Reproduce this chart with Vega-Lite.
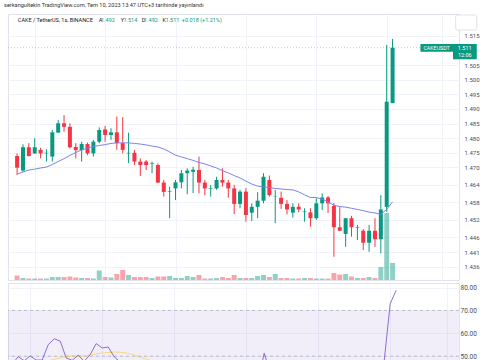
{
  "$schema": "https://vega.github.io/schema/vega-lite/v6.json",
  "padding": {"left": 4, "top": 2, "right": 0, "bottom": 0},
  "background": "white",
  "title": {"text": "serkangultekin TradingView.com, Tem 10, 2023 13:47 UTC+3 tarihinde yayınlandı", "anchor": "start", "fontSize": 5.6, "font": "Roboto", "fontWeight": "normal", "color": "#333333", "offset": 5, "dx": -3},
  "config": {"view": {"stroke": "#e0e3eb"}, "font": "Roboto", "axis": {"labelOverlap": false, "labelBound": false, "labelFlush": false}},
  "spacing": 1,
  "datasets": {
    "bars": [
      {"i":0,"o":1.4739,"h":1.4748,"l":1.4674,"c":1.4699,"v":4.5,"ma":1.4677,"rsi":46.5,"rsima":46.0},
      {"i":1,"o":1.4689,"h":1.4779,"l":1.4685,"c":1.4769,"v":2,"ma":1.4684,"rsi":49.8,"rsima":46.3},
      {"i":2,"o":1.4769,"h":1.4783,"l":1.4737,"c":1.4739,"v":1.5,"ma":1.4691,"rsi":48.0,"rsima":46.6},
      {"i":3,"o":1.4748,"h":1.4800,"l":1.4746,"c":1.4769,"v":1.5,"ma":1.4694,"rsi":50.1,"rsima":47.0},
      {"i":4,"o":1.4760,"h":1.4767,"l":1.4731,"c":1.4748,"v":1.5,"ma":1.4698,"rsi":48.3,"rsima":47.3},
      {"i":5,"o":1.4748,"h":1.4762,"l":1.4720,"c":1.4750,"v":1.5,"ma":1.4701,"rsi":48.3,"rsima":47.6},
      {"i":6,"o":1.4737,"h":1.4828,"l":1.4720,"c":1.4820,"v":3,"ma":1.4710,"rsi":55.0,"rsima":47.9},
      {"i":7,"o":1.4819,"h":1.4862,"l":1.4819,"c":1.4851,"v":3,"ma":1.4720,"rsi":57.6,"rsima":48.6},
      {"i":8,"o":1.4851,"h":1.4879,"l":1.4822,"c":1.4839,"v":3,"ma":1.4730,"rsi":56.6,"rsima":49.2},
      {"i":9,"o":1.4839,"h":1.4851,"l":1.4765,"c":1.4769,"v":3.5,"ma":1.4741,"rsi":49.2,"rsima":49.9},
      {"i":10,"o":1.4770,"h":1.4783,"l":1.4731,"c":1.4759,"v":2.5,"ma":1.4751,"rsi":48.2,"rsima":50.1},
      {"i":11,"o":1.4759,"h":1.4788,"l":1.4720,"c":1.4780,"v":2,"ma":1.4760,"rsi":50.4,"rsima":50.1},
      {"i":12,"o":1.4780,"h":1.4785,"l":1.4742,"c":1.4748,"v":2,"ma":1.4766,"rsi":47.8,"rsima":50.1},
      {"i":13,"o":1.4748,"h":1.4794,"l":1.4737,"c":1.4788,"v":1.5,"ma":1.4772,"rsi":50.7,"rsima":50.5},
      {"i":14,"o":1.4788,"h":1.4837,"l":1.4783,"c":1.4828,"v":9.5,"ma":1.4775,"rsi":55.5,"rsima":51.0},
      {"i":15,"o":1.4830,"h":1.4842,"l":1.4788,"c":1.4811,"v":3,"ma":1.4778,"rsi":53.6,"rsima":51.4},
      {"i":16,"o":1.4811,"h":1.4834,"l":1.4794,"c":1.4820,"v":2.5,"ma":1.4782,"rsi":54.0,"rsima":51.6},
      {"i":17,"o":1.4820,"h":1.4874,"l":1.4760,"c":1.4783,"v":6,"ma":1.4784,"rsi":49.7,"rsima":51.8},
      {"i":18,"o":1.4783,"h":1.4872,"l":1.4748,"c":1.4760,"v":10,"ma":1.4784,"rsi":47.5,"rsima":51.7},
      {"i":19,"o":1.4748,"h":1.4819,"l":1.4715,"c":1.4750,"v":5,"ma":1.4784,"rsi":45.5,"rsima":51.4},
      {"i":20,"o":1.4750,"h":1.4760,"l":1.4708,"c":1.4720,"v":3,"ma":1.4782,"rsi":42.0,"rsima":50.8},
      {"i":21,"o":1.4720,"h":1.4731,"l":1.4671,"c":1.4708,"v":3,"ma":1.4780,"rsi":40.5,"rsima":49.9},
      {"i":22,"o":1.4720,"h":1.4725,"l":1.4691,"c":1.4708,"v":3,"ma":1.4777,"rsi":40.5,"rsima":49.0},
      {"i":23,"o":1.4712,"h":1.4720,"l":1.4680,"c":1.4714,"v":2,"ma":1.4773,"rsi":41.5,"rsima":48.1},
      {"i":24,"o":1.4708,"h":1.4714,"l":1.4646,"c":1.4648,"v":3.5,"ma":1.4770,"rsi":35.5,"rsima":47.2},
      {"i":25,"o":1.4648,"h":1.4657,"l":1.4600,"c":1.4616,"v":3.5,"ma":1.4763,"rsi":32.5,"rsima":46.3},
      {"i":26,"o":1.4617,"h":1.4634,"l":1.4526,"c":1.4619,"v":4,"ma":1.4753,"rsi":33.0,"rsima":45.4},
      {"i":27,"o":1.4628,"h":1.4657,"l":1.4588,"c":1.4649,"v":2,"ma":1.4742,"rsi":37.5,"rsima":44.6},
      {"i":28,"o":1.4649,"h":1.4691,"l":1.4628,"c":1.4680,"v":2,"ma":1.4736,"rsi":42.0,"rsima":44.0},
      {"i":29,"o":1.4680,"h":1.4697,"l":1.4608,"c":1.4689,"v":4,"ma":1.4730,"rsi":43.0,"rsima":43.5},
      {"i":30,"o":1.4685,"h":1.4702,"l":1.4612,"c":1.4692,"v":3,"ma":1.4724,"rsi":43.5,"rsima":43.0},
      {"i":31,"o":1.4691,"h":1.4737,"l":1.4611,"c":1.4648,"v":5,"ma":1.4717,"rsi":38.5,"rsima":42.3},
      {"i":32,"o":1.4648,"h":1.4657,"l":1.4605,"c":1.4628,"v":1.5,"ma":1.4712,"rsi":36.5,"rsima":41.6},
      {"i":33,"o":1.4627,"h":1.4640,"l":1.4600,"c":1.4629,"v":1.5,"ma":1.4705,"rsi":36.8,"rsima":41.0},
      {"i":34,"o":1.4628,"h":1.4668,"l":1.4623,"c":1.4657,"v":2,"ma":1.4698,"rsi":41.0,"rsima":40.6},
      {"i":35,"o":1.4657,"h":1.4697,"l":1.4634,"c":1.4648,"v":3,"ma":1.4689,"rsi":40.0,"rsima":40.4},
      {"i":36,"o":1.4648,"h":1.4657,"l":1.4596,"c":1.4628,"v":2,"ma":1.4681,"rsi":37.5,"rsima":40.2},
      {"i":37,"o":1.4628,"h":1.4640,"l":1.4540,"c":1.4575,"v":5,"ma":1.4672,"rsi":32.0,"rsima":39.8},
      {"i":38,"o":1.4575,"h":1.4623,"l":1.4560,"c":1.4617,"v":2,"ma":1.4664,"rsi":39.0,"rsima":39.6},
      {"i":39,"o":1.4617,"h":1.4629,"l":1.4514,"c":1.4537,"v":2,"ma":1.4653,"rsi":32.5,"rsima":39.4},
      {"i":40,"o":1.4545,"h":1.4577,"l":1.4516,"c":1.4565,"v":2,"ma":1.4643,"rsi":36.0,"rsima":39.2},
      {"i":41,"o":1.4565,"h":1.4615,"l":1.4526,"c":1.4586,"v":4,"ma":1.4636,"rsi":39.5,"rsima":39.1},
      {"i":42,"o":1.4586,"h":1.4680,"l":1.4577,"c":1.4668,"v":5,"ma":1.4633,"rsi":51.3,"rsima":39.6},
      {"i":43,"o":1.4657,"h":1.4672,"l":1.4600,"c":1.4605,"v":3,"ma":1.4631,"rsi":43.0,"rsima":40.0},
      {"i":44,"o":1.4599,"h":1.4623,"l":1.4509,"c":1.4600,"v":6,"ma":1.4628,"rsi":42.5,"rsima":40.3},
      {"i":45,"o":1.4596,"h":1.4617,"l":1.4558,"c":1.4575,"v":2,"ma":1.4626,"rsi":40.0,"rsima":40.5},
      {"i":46,"o":1.4575,"h":1.4588,"l":1.4539,"c":1.4556,"v":2,"ma":1.4624,"rsi":38.0,"rsima":40.6},
      {"i":47,"o":1.4545,"h":1.4577,"l":1.4528,"c":1.4565,"v":1.5,"ma":1.4623,"rsi":39.5,"rsima":40.8},
      {"i":48,"o":1.4565,"h":1.4577,"l":1.4546,"c":1.4556,"v":1.5,"ma":1.4616,"rsi":38.5,"rsima":41.0},
      {"i":49,"o":1.4547,"h":1.4560,"l":1.4514,"c":1.4549,"v":2,"ma":1.4606,"rsi":38.0,"rsima":41.2},
      {"i":50,"o":1.4546,"h":1.4560,"l":1.4497,"c":1.4526,"v":2,"ma":1.4597,"rsi":35.5,"rsima":41.3},
      {"i":51,"o":1.4526,"h":1.4594,"l":1.4520,"c":1.4577,"v":1.5,"ma":1.4597,"rsi":44.0,"rsima":41.5},
      {"i":52,"o":1.4577,"h":1.4611,"l":1.4554,"c":1.4597,"v":1.5,"ma":1.4591,"rsi":48.2,"rsima":41.7},
      {"i":53,"o":1.4597,"h":1.4602,"l":1.4544,"c":1.4577,"v":1.5,"ma":1.4582,"rsi":44.5,"rsima":41.8},
      {"i":54,"o":1.4568,"h":1.4578,"l":1.4394,"c":1.4495,"v":7,"ma":1.4570,"rsi":35.0,"rsima":41.4},
      {"i":55,"o":1.4495,"h":1.4565,"l":1.4482,"c":1.4483,"v":5.5,"ma":1.4566,"rsi":34.0,"rsima":40.9},
      {"i":56,"o":1.4472,"h":1.4526,"l":1.4428,"c":1.4526,"v":6,"ma":1.4564,"rsi":40.0,"rsima":40.6},
      {"i":57,"o":1.4526,"h":1.4534,"l":1.4463,"c":1.4495,"v":3.5,"ma":1.4560,"rsi":37.0,"rsima":40.3},
      {"i":58,"o":1.4494,"h":1.4503,"l":1.4451,"c":1.4496,"v":2,"ma":1.4556,"rsi":37.2,"rsima":40.0},
      {"i":59,"o":1.4483,"h":1.4489,"l":1.4417,"c":1.4442,"v":2,"ma":1.4552,"rsi":32.5,"rsima":39.5},
      {"i":60,"o":1.4442,"h":1.4503,"l":1.4411,"c":1.4483,"v":3,"ma":1.4547,"rsi":38.0,"rsima":39.3},
      {"i":61,"o":1.4483,"h":1.4526,"l":1.4428,"c":1.4454,"v":2,"ma":1.4544,"rsi":35.5,"rsima":39.0},
      {"i":62,"o":1.4454,"h":1.4605,"l":1.4406,"c":1.4556,"v":13,"ma":1.4539,"rsi":47.8,"rsima":39.2},
      {"i":63,"o":1.4565,"h":1.5119,"l":1.4548,"c":1.4925,"v":67,"ma":1.4556,"rsi":72.9,"rsima":41.5},
      {"i":64,"o":1.4920,"h":1.5140,"l":1.4920,"c":1.5110,"v":17,"ma":1.4582,"rsi":78.8,"rsima":44.0}
    ]
  },
  "vconcat": [
    {
      "width": 451,
      "height": 266,
      "data": {"name": "bars"},
      "layer": [
        {
          "mark": {"type": "bar", "width": 5},
          "encoding": {
            "x": {"field": "i", "type": "quantitative", "title": null,
                  "scale": {"domain": [-0.7, 74.47], "nice": false, "zero": false},
                  "axis": {"orient": "bottom", "values": [3, 15, 27, 39, 51, 63, 72.5], "tickCount": 30, "grid": true, "gridColor": "#f0f3fa", "labels": false, "ticks": false, "domain": false, "title": null}},
            "y": {"field": "v", "type": "quantitative", "title": null, "axis": null, "scale": {"domain": [0, 266], "nice": false}},
            "color": {"condition": {"test": "datum.c >= datum.o", "value": "#089981"}, "value": "#F23645"},
            "opacity": {"value": 0.45}
          }
        },
        {
          "layer": [
            {
              "mark": {"type": "rule", "strokeWidth": 1},
              "encoding": {
                "x": {"field": "i", "type": "quantitative", "title": null},
                "y": {"field": "l", "type": "quantitative", "title": null,
                      "scale": {"domain": [1.43144, 1.52253], "nice": false, "zero": false},
                      "axis": {"orient": "right", "values": [1.436, 1.441, 1.446, 1.452, 1.458, 1.464, 1.470, 1.475, 1.480, 1.485, 1.490, 1.495, 1.500, 1.505, 1.515], "tickCount": 30, "format": ".3f", "labelOverlap": false, "grid": true, "gridColor": "#f0f3fa", "ticks": false, "domain": false, "labelPadding": 5, "labelFontSize": 6, "labelColor": "#4a4e5a", "labelFont": "Roboto", "title": null}},
                "y2": {"field": "h"},
                "color": {"condition": {"test": "datum.c >= datum.o", "value": "#089981"}, "value": "#F23645"}
              }
            },
            {
              "mark": {"type": "bar", "width": 4},
              "encoding": {
                "x": {"field": "i", "type": "quantitative", "title": null},
                "y": {"field": "o", "type": "quantitative", "title": null},
                "y2": {"field": "c"},
                "color": {"condition": {"test": "datum.c >= datum.o", "value": "#089981"}, "value": "#F23645"}
              }
            },
            {
              "mark": {"type": "line", "color": "#7b83eb", "strokeWidth": 1},
              "encoding": {
                "x": {"field": "i", "type": "quantitative", "title": null},
                "y": {"field": "ma", "type": "quantitative", "title": null}
              }
            },
            {
              "transform": [{"filter": "datum.i == 64"}],
              "mark": {"type": "rule", "color": "#089981", "strokeDash": [1, 2], "opacity": 0.35},
              "encoding": {"y": {"field": "c", "type": "quantitative", "title": null}}
            },
            {
              "transform": [{"filter": "datum.i == 64"}],
              "layer": [
                {"mark": {"type": "rect", "fill": "#089981"},
                 "encoding": {"x": {"datum": 68.75}, "x2": {"datum": 74.3}, "y": {"datum": 1.51226}, "y2": {"datum": 1.50962}}},
                {"mark": {"type": "rect", "fill": "#089981"},
                 "encoding": {"x": {"datum": 74.3}, "x2": {"datum": 78.35}, "y": {"datum": 1.51226}, "y2": {"datum": 1.50702}}},
                {"mark": {"type": "rect", "fill": "white", "stroke": "#d1d4dc", "strokeWidth": 0.7, "cornerRadius": 2},
                 "encoding": {"x": {"datum": 74.75}, "x2": {"datum": 78.35}, "y": {"datum": 1.52219}, "y2": {"datum": 1.51705}}},
                {"mark": {"type": "text", "text": "CAKEUSDT", "color": "white", "fontSize": 5.3, "align": "center", "baseline": "middle"},
                 "encoding": {"x": {"datum": 71.5}, "y": {"datum": 1.51096}}},
                {"mark": {"type": "text", "text": "1.511", "color": "white", "fontSize": 5.5, "align": "center", "baseline": "middle"},
                 "encoding": {"x": {"datum": 76.3}, "y": {"datum": 1.51096}}},
                {"mark": {"type": "text", "text": "12:06", "color": "white", "fontSize": 5.5, "align": "center", "baseline": "middle"},
                 "encoding": {"x": {"datum": 76.3}, "y": {"datum": 1.50849}}},
                {"mark": {"type": "text", "text": "CAKE / TetherUS, 1s, BINANCE", "color": "#131722", "fontSize": 5.5, "align": "left", "baseline": "middle"},
                 "encoding": {"x": {"datum": 0.13}, "y": {"datum": 1.5205}}},
                {"mark": {"type": "text", "text": "A", "color": "#131722", "fontSize": 5.5, "align": "left", "baseline": "middle"},
                 "encoding": {"x": {"datum": 13.92}, "y": {"datum": 1.5205}}},
                {"mark": {"type": "text", "text": "1.492", "color": "#089981", "fontSize": 5.5, "align": "left", "baseline": "middle"},
                 "encoding": {"x": {"datum": 14.3}, "y": {"datum": 1.5205}}},
                {"mark": {"type": "text", "text": "Y", "color": "#131722", "fontSize": 5.5, "align": "left", "baseline": "middle"},
                 "encoding": {"x": {"datum": 17.68}, "y": {"datum": 1.5205}}},
                {"mark": {"type": "text", "text": "1.514", "color": "#089981", "fontSize": 5.5, "align": "left", "baseline": "middle"},
                 "encoding": {"x": {"datum": 18.13}, "y": {"datum": 1.5205}}},
                {"mark": {"type": "text", "text": "D", "color": "#131722", "fontSize": 5.5, "align": "left", "baseline": "middle"},
                 "encoding": {"x": {"datum": 21.25}, "y": {"datum": 1.5205}}},
                {"mark": {"type": "text", "text": "1.492", "color": "#089981", "fontSize": 5.5, "align": "left", "baseline": "middle"},
                 "encoding": {"x": {"datum": 21.63}, "y": {"datum": 1.5205}}},
                {"mark": {"type": "text", "text": "K", "color": "#131722", "fontSize": 5.5, "align": "left", "baseline": "middle"},
                 "encoding": {"x": {"datum": 24.8}, "y": {"datum": 1.5205}}},
                {"mark": {"type": "text", "text": "1.511", "color": "#089981", "fontSize": 5.5, "align": "left", "baseline": "middle"},
                 "encoding": {"x": {"datum": 25.3}, "y": {"datum": 1.5205}}},
                {"mark": {"type": "text", "text": "+0.018 (+1.21%)", "color": "#089981", "fontSize": 5.5, "align": "left", "baseline": "middle"},
                 "encoding": {"x": {"datum": 28.08}, "y": {"datum": 1.5205}}}
              ]
            }
          ]
        }
      ],
      "resolve": {"scale": {"y": "independent"}}
    },
    {
      "width": 451,
      "height": 79,
      "data": {"name": "bars"},
      "layer": [
        {
          "transform": [{"filter": "datum.i == 64"}],
          "mark": {"type": "rect", "fill": "#7E57C2", "opacity": 0.1, "clip": true},
          "encoding": {
            "y": {"datum": 70, "type": "quantitative", "title": null, "scale": {"domain": [47.45, 82], "nice": false, "zero": false},
                  "axis": {"orient": "right", "values": [50, 60, 70, 80], "tickCount": 30, "format": ".2f", "labelOverlap": false, "grid": true, "gridColor": "#f0f3fa", "ticks": false, "domain": false, "labelPadding": 1, "labelFontSize": 6.5, "labelColor": "#4a4e5a", "labelFont": "Roboto", "title": null}},
            "y2": {"datum": 30}
          }
        },
        {
          "transform": [{"filter": "datum.i == 64"}],
          "mark": {"type": "rule", "color": "#9598a1", "strokeDash": [3, 3], "opacity": 0.7, "strokeWidth": 0.8},
          "encoding": {"y": {"datum": 70, "type": "quantitative"}}
        },
        {
          "transform": [{"filter": "datum.i == 64"}],
          "mark": {"type": "rule", "color": "#9598a1", "strokeDash": [3, 3], "opacity": 0.7, "strokeWidth": 0.8},
          "encoding": {"y": {"datum": 50, "type": "quantitative"}}
        },
        {
          "mark": {"type": "line", "color": "#F7C600", "opacity": 0.5, "strokeWidth": 1, "clip": true},
          "encoding": {
            "x": {"field": "i", "type": "quantitative", "title": null,
                  "scale": {"domain": [-0.7, 74.47], "nice": false, "zero": false},
                  "axis": {"orient": "bottom", "values": [3, 15, 27, 39, 51, 63, 72.5], "tickCount": 30, "grid": true, "gridColor": "#f0f3fa", "labels": false, "ticks": false, "domain": false, "title": null}},
            "y": {"field": "rsima", "type": "quantitative", "title": null}
          }
        },
        {
          "mark": {"type": "line", "color": "#7E57C2", "opacity": 0.85, "strokeWidth": 1, "clip": true},
          "encoding": {
            "x": {"field": "i", "type": "quantitative", "title": null},
            "y": {"field": "rsi", "type": "quantitative", "title": null}
          }
        }
      ]
    }
  ]
}
